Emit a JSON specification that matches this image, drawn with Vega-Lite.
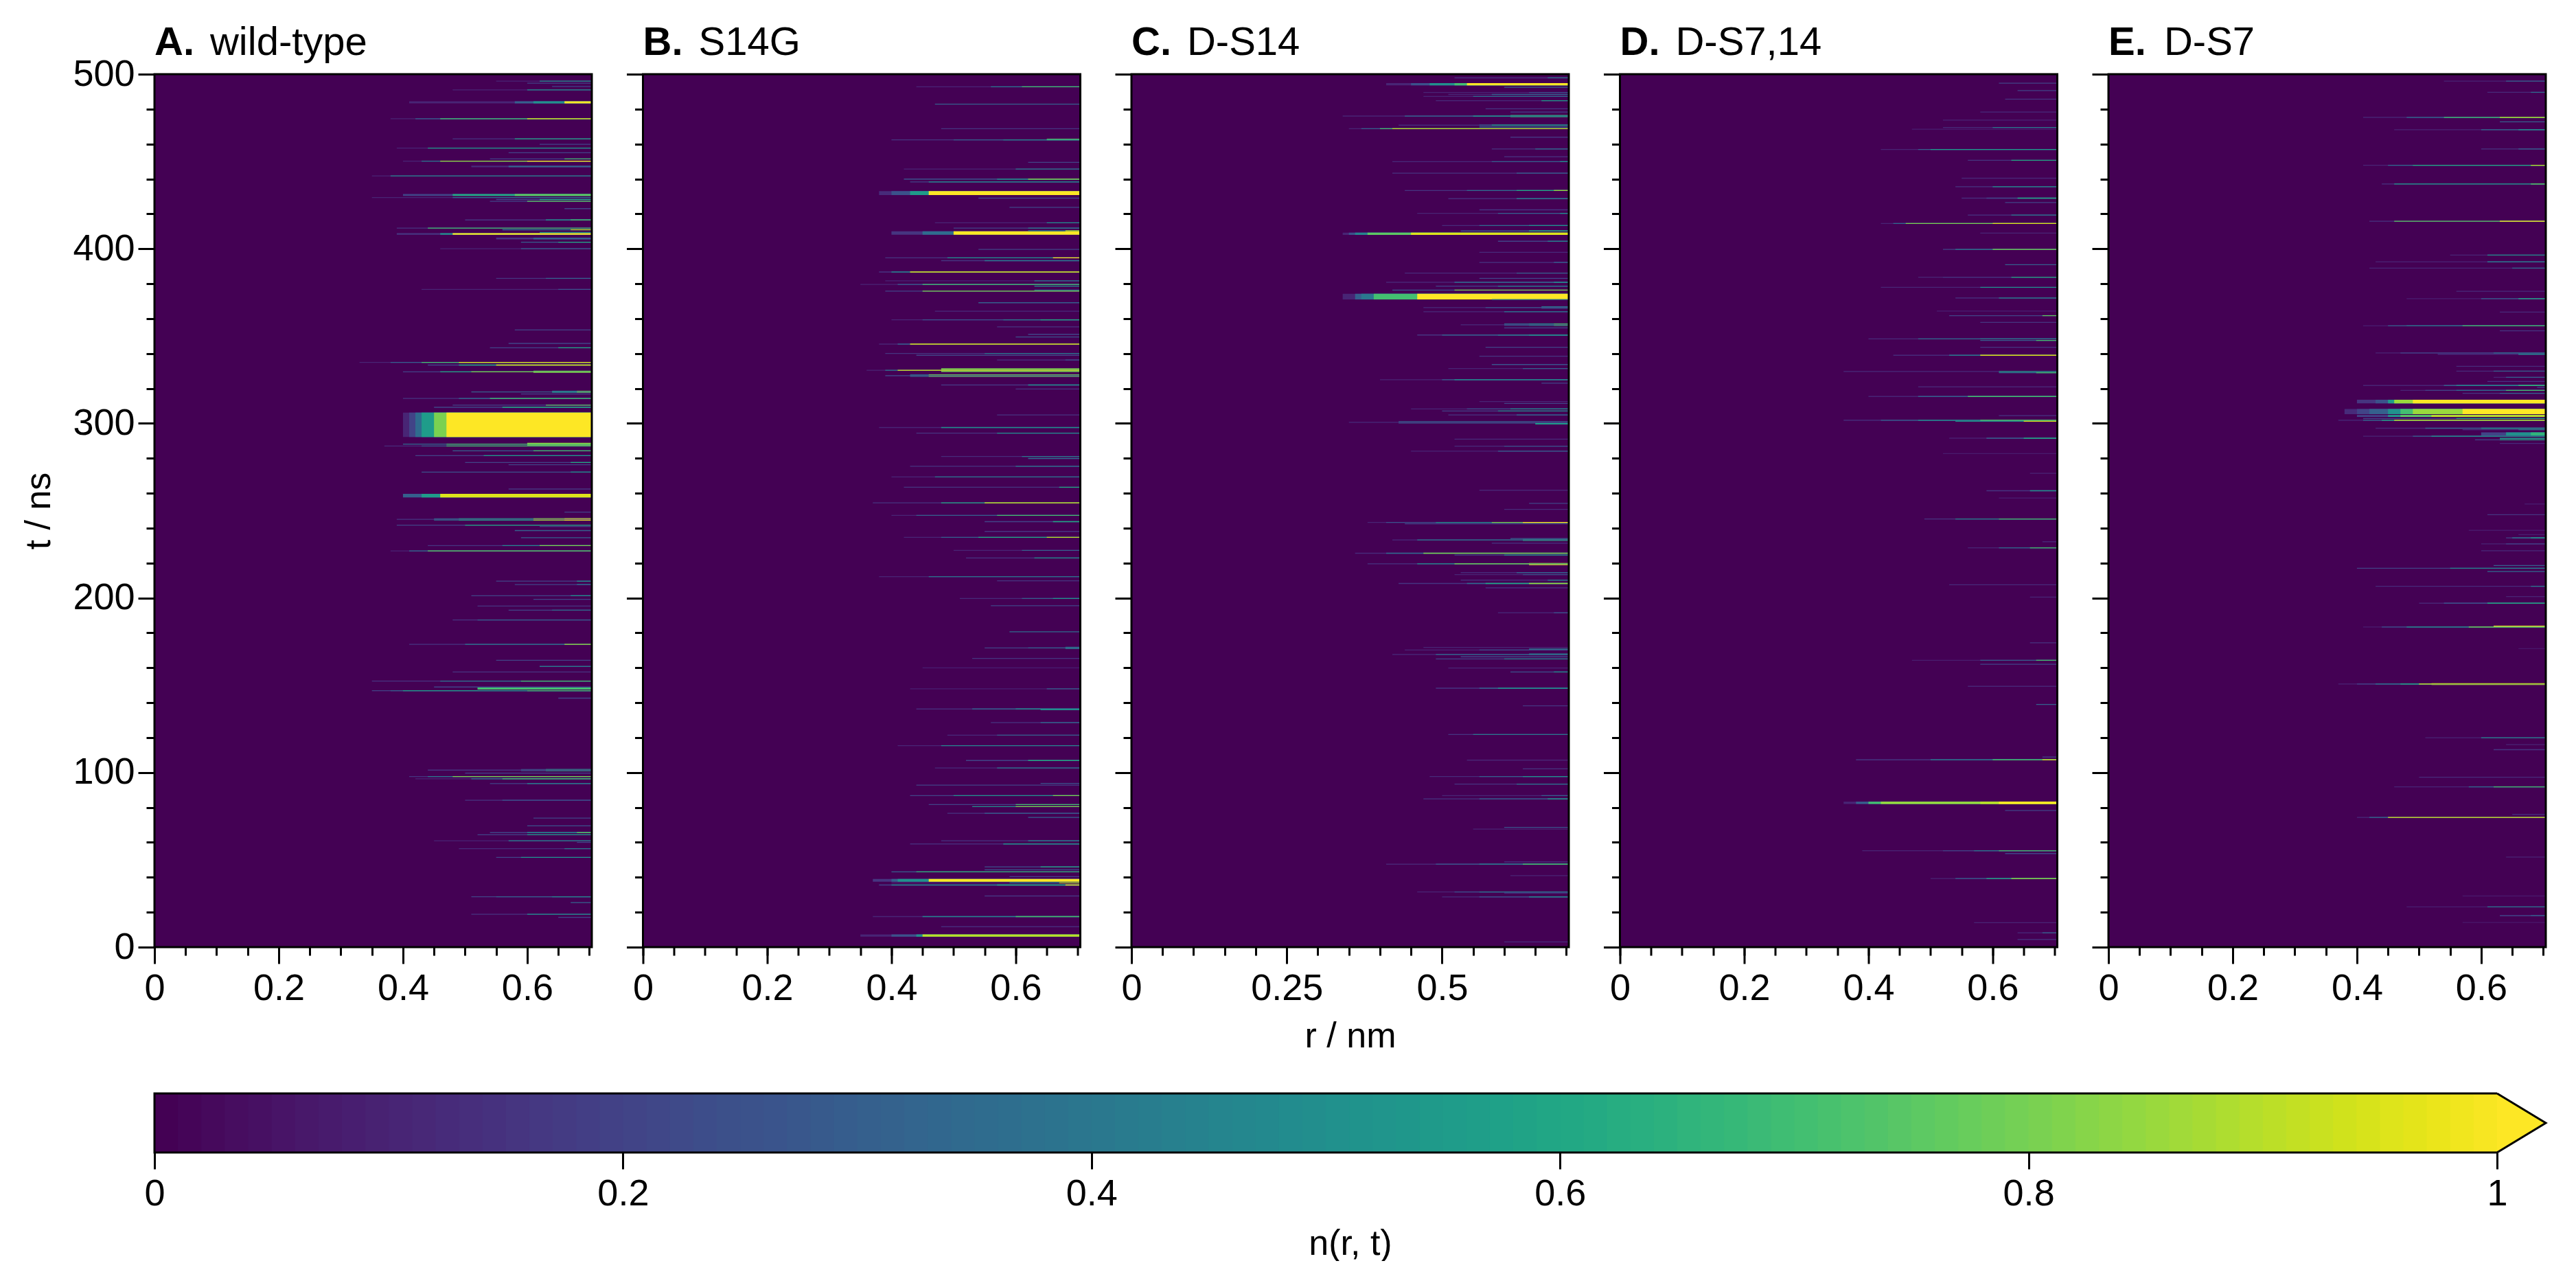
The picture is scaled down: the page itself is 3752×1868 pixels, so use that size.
{"$schema":"https://vega.github.io/schema/vega-lite/v6.json","background":"white","padding":{"left":30,"top":34,"right":0,"bottom":0},"spacing":52,"config":{"view":{"stroke":null},"font":"Liberation Sans","axisX":{"labelPadding":9},"axisY":{"labelPadding":5},"axis":{"labelFont":"Liberation Sans","titleFont":"Liberation Sans","labelFontSize":54,"titleFontSize":52,"titleFontWeight":"normal","labelColor":"black","titleColor":"black","tickColor":"black","tickWidth":3,"domain":false,"grid":false,"labelOverlap":false,"labelFlush":false,"labelBound":false}},"datasets":{"ft":[{"r":0,"u":0.704,"t":0,"e":500}],
"A1":[{"t":0,"e":500,"r":0,"n":0},{"t":483.3,"e":484.5,"r":0.41,"n":0.1},{"t":483.3,"e":484.5,"r":0.58,"n":0.3},{"t":483.3,"e":484.5,"r":0.61,"n":0.5},{"t":483.3,"e":484.5,"r":0.66,"n":1},{"t":430.3,"e":431.4,"r":0.4,"n":0.2},{"t":430.3,"e":431.4,"r":0.48,"n":0.6},{"t":430.3,"e":431.4,"r":0.58,"n":0.75},{"t":408,"e":408.9,"r":0.39,"n":0.15},{"t":408,"e":408.9,"r":0.46,"n":0.5},{"t":408,"e":408.9,"r":0.48,"n":1},{"t":446.7,"e":447.6,"r":0.51,"n":0.12},{"t":446.7,"e":447.6,"r":0.57,"n":0.3},{"t":405.4,"e":406.4,"r":0.55,"n":0.15},{"t":405.4,"e":406.4,"r":0.61,"n":0.3},{"t":292.2,"e":306.2,"r":0.4,"n":0.1},{"t":292.2,"e":306.2,"r":0.41,"n":0.2},{"t":292.2,"e":306.2,"r":0.42,"n":0.35},{"t":292.2,"e":306.2,"r":0.43,"n":0.55},{"t":292.2,"e":306.2,"r":0.45,"n":0.8},{"t":292.2,"e":306.2,"r":0.47,"n":1},{"t":257.6,"e":259.6,"r":0.4,"n":0.3},{"t":257.6,"e":259.6,"r":0.43,"n":0.55},{"t":257.6,"e":259.6,"r":0.46,"n":0.95},{"t":329,"e":330.2,"r":0.61,"n":0.8},{"t":317.5,"e":318.6,"r":0.64,"n":0.5},{"t":317.5,"e":318.6,"r":0.68,"n":0.8},{"t":287,"e":288.8,"r":0.6,"n":0.85},{"t":244.4,"e":245.6,"r":0.45,"n":0.4},{"t":244.4,"e":245.6,"r":0.49,"n":0.6},{"t":244.4,"e":245.6,"r":0.61,"n":0.9},{"t":244.4,"e":245.6,"r":0.66,"n":1},{"t":100.8,"e":102,"r":0.59,"n":0.3},{"t":100.8,"e":102,"r":0.63,"n":0.6},{"t":147.5,"e":148.8,"r":0.52,"n":0.7}],
"A2":[{"t":496,"r":0.55,"n":0.1},{"t":496,"r":0.62,"n":0.5},{"t":494.8,"r":0.6,"n":0.2},{"t":493,"r":0.64,"n":0.2},{"t":491,"r":0.48,"n":0.1},{"t":491,"r":0.6,"n":0.5},{"t":474.5,"r":0.38,"n":0.1},{"t":474.5,"r":0.42,"n":0.3},{"t":474.5,"r":0.46,"n":0.7},{"t":474.5,"r":0.6,"n":0.95},{"t":463,"r":0.48,"n":0.15},{"t":463,"r":0.58,"n":0.6},{"t":459.8,"r":0.62,"n":0.2},{"t":457.7,"r":0.39,"n":0.1},{"t":457.7,"r":0.44,"n":0.55},{"t":455,"r":0.57,"n":0.2},{"t":451.5,"r":0.54,"n":0.2},{"t":451.5,"r":0.66,"n":0.7},{"t":450.2,"r":0.4,"n":0.1},{"t":450.2,"r":0.43,"n":0.4},{"t":450.2,"r":0.46,"n":0.85},{"t":450.2,"r":0.6,"n":1},{"t":441.7,"r":0.35,"n":0.1},{"t":441.7,"r":0.38,"n":0.45},{"t":429.3,"r":0.35,"n":0.1},{"t":429.3,"r":0.48,"n":0.35},{"t":428.2,"r":0.55,"n":0.2},{"t":428.2,"r":0.62,"n":0.6},{"t":427.2,"r":0.54,"n":0.2},{"t":427.2,"r":0.6,"n":0.75},{"t":423,"r":0.66,"n":0.2},{"t":416.5,"r":0.5,"n":0.15},{"t":416.5,"r":0.63,"n":0.5},{"t":416.5,"r":0.67,"n":0.7},{"t":411.8,"r":0.39,"n":0.15},{"t":411.8,"r":0.44,"n":0.7},{"t":410.9,"r":0.56,"n":0.4},{"t":410.9,"r":0.67,"n":0.9},{"t":409.4,"r":0.62,"n":0.5},{"t":403.8,"r":0.59,"n":0.3},{"t":403.8,"r":0.65,"n":0.6},{"t":400,"r":0.46,"n":0.1},{"t":400,"r":0.59,"n":0.3},{"t":383,"r":0.55,"n":0.15},{"t":383,"r":0.63,"n":0.3},{"t":376.7,"r":0.43,"n":0.1},{"t":376.7,"r":0.65,"n":0.25},{"t":353.5,"r":0.58,"n":0.2},{"t":345.8,"r":0.57,"n":0.2},{"t":343.3,"r":0.54,"n":0.2},{"t":343.3,"r":0.65,"n":0.6},{"t":334.9,"r":0.33,"n":0.1},{"t":334.9,"r":0.38,"n":0.3},{"t":334.9,"r":0.43,"n":0.7},{"t":334.9,"r":0.49,"n":0.95},{"t":333.4,"r":0.44,"n":0.2},{"t":333.4,"r":0.49,"n":0.6},{"t":333.4,"r":0.55,"n":0.95},{"t":329.5,"r":0.4,"n":0.2},{"t":329.5,"r":0.46,"n":0.6},{"t":329.5,"r":0.51,"n":0.8},{"t":318,"r":0.51,"n":0.3},{"t":316.8,"r":0.59,"n":0.2},{"t":314.3,"r":0.4,"n":0.15},{"t":314.3,"r":0.49,"n":0.35},{"t":314.3,"r":0.54,"n":0.7},{"t":310.4,"r":0.48,"n":0.2},{"t":310.4,"r":0.63,"n":0.75},{"t":309.2,"r":0.45,"n":0.2},{"t":309.2,"r":0.56,"n":0.6},{"t":288.1,"r":0.4,"n":0.35},{"t":288.1,"r":0.47,"n":0.7},{"t":287,"r":0.37,"n":0.12},{"t":287,"r":0.43,"n":0.3},{"t":287,"r":0.47,"n":0.7},{"t":284.3,"r":0.48,"n":0.3},{"t":284.3,"r":0.61,"n":0.7},{"t":281.5,"r":0.42,"n":0.2},{"t":281.5,"r":0.53,"n":0.55},{"t":277.6,"r":0.5,"n":0.2},{"t":277.6,"r":0.67,"n":0.6},{"t":276.3,"r":0.57,"n":0.2},{"t":272.1,"r":0.43,"n":0.25},{"t":272.1,"r":0.67,"n":0.5},{"t":262.4,"r":0.57,"n":0.15},{"t":249.2,"r":0.66,"n":0.2},{"t":245,"r":0.39,"n":0.15},{"t":241.7,"r":0.39,"n":0.2},{"t":241.7,"r":0.5,"n":0.6},{"t":240.9,"r":0.62,"n":0.2},{"t":238.6,"r":0.58,"n":0.3},{"t":234.5,"r":0.59,"n":0.3},{"t":230,"r":0.44,"n":0.15},{"t":230,"r":0.56,"n":0.45},{"t":230,"r":0.62,"n":0.8},{"t":226.9,"r":0.38,"n":0.1},{"t":226.9,"r":0.41,"n":0.35},{"t":226.9,"r":0.44,"n":0.75},{"t":209.6,"r":0.55,"n":0.2},{"t":209.6,"r":0.68,"n":0.5},{"t":207.7,"r":0.58,"n":0.2},{"t":207.7,"r":0.68,"n":0.35},{"t":201.3,"r":0.51,"n":0.2},{"t":201.3,"r":0.67,"n":0.5},{"t":199.2,"r":0.61,"n":0.2},{"t":195.4,"r":0.52,"n":0.15},{"t":193,"r":0.57,"n":0.2},{"t":193,"r":0.64,"n":0.35},{"t":187.4,"r":0.48,"n":0.15},{"t":187.4,"r":0.52,"n":0.3},{"t":173.4,"r":0.41,"n":0.15},{"t":173.4,"r":0.5,"n":0.4},{"t":173.4,"r":0.66,"n":0.85},{"t":164.3,"r":0.55,"n":0.2},{"t":160.8,"r":0.62,"n":0.4},{"t":157.6,"r":0.48,"n":0.15},{"t":152.4,"r":0.35,"n":0.15},{"t":152.4,"r":0.46,"n":0.4},{"t":152.4,"r":0.59,"n":0.7},{"t":149,"r":0.45,"n":0.2},{"t":146.9,"r":0.35,"n":0.2},{"t":146.9,"r":0.38,"n":0.3},{"t":146.9,"r":0.4,"n":0.55},{"t":146.9,"r":0.6,"n":0.7},{"t":142.6,"r":0.65,"n":0.2},{"t":99.7,"r":0.5,"n":0.2},{"t":101.4,"r":0.44,"n":0.15},{"t":97.7,"r":0.41,"n":0.15},{"t":97.7,"r":0.44,"n":0.4},{"t":97.7,"r":0.48,"n":0.8},{"t":96.4,"r":0.42,"n":0.1},{"t":96.4,"r":0.51,"n":0.4},{"t":96.4,"r":0.56,"n":0.7},{"t":93.7,"r":0.54,"n":0.2},{"t":93.7,"r":0.6,"n":0.45},{"t":84.1,"r":0.5,"n":0.15},{"t":84.1,"r":0.56,"n":0.25},{"t":73.9,"r":0.61,"n":0.2},{"t":69.5,"r":0.6,"n":0.25},{"t":65.6,"r":0.54,"n":0.2},{"t":65.6,"r":0.6,"n":0.45},{"t":65.6,"r":0.68,"n":0.75},{"t":64.4,"r":0.52,"n":0.2},{"t":64.4,"r":0.6,"n":0.55},{"t":60.9,"r":0.45,"n":0.1},{"t":60.9,"r":0.57,"n":0.45},{"t":60,"r":0.68,"n":0.2},{"t":56.4,"r":0.49,"n":0.12},{"t":56.4,"r":0.66,"n":0.4},{"t":51.4,"r":0.55,"n":0.2},{"t":51.4,"r":0.59,"n":0.5},{"t":28.9,"r":0.51,"n":0.2},{"t":28.9,"r":0.55,"n":0.3},{"t":28.9,"r":0.64,"n":0.45},{"t":25.5,"r":0.67,"n":0.3},{"t":18.8,"r":0.51,"n":0.15},{"t":18.8,"r":0.6,"n":0.5},{"t":17.1,"r":0.65,"n":0.2}],
"B1":[{"t":0,"e":500,"r":0,"n":0},{"t":430.8,"e":433,"r":0.38,"n":0.12},{"t":430.8,"e":433,"r":0.4,"n":0.25},{"t":430.8,"e":433,"r":0.43,"n":0.55},{"t":430.8,"e":433,"r":0.46,"n":1},{"t":408,"e":410,"r":0.4,"n":0.15},{"t":408,"e":410,"r":0.45,"n":0.35},{"t":408,"e":410,"r":0.5,"n":1},{"t":329.5,"e":331.5,"r":0.48,"n":0.8},{"t":326.7,"e":328,"r":0.43,"n":0.4},{"t":326.7,"e":328,"r":0.46,"n":0.8},{"t":37.5,"e":39,"r":0.37,"n":0.15},{"t":37.5,"e":39,"r":0.4,"n":0.3},{"t":37.5,"e":39,"r":0.41,"n":0.5},{"t":37.5,"e":39,"r":0.46,"n":1},{"t":6,"e":7.3,"r":0.35,"n":0.1},{"t":6,"e":7.3,"r":0.4,"n":0.25},{"t":6,"e":7.3,"r":0.44,"n":0.5},{"t":6,"e":7.3,"r":0.45,"n":0.9},{"t":462,"e":463,"r":0.65,"n":0.75},{"t":170.8,"e":172,"r":0.68,"n":0.45}],
"B2":[{"t":492.8,"r":0.44,"n":0.1},{"t":492.8,"r":0.56,"n":0.4},{"t":492.8,"r":0.61,"n":0.7},{"t":482.8,"r":0.47,"n":0.3},{"t":468.8,"r":0.48,"n":0.15},{"t":462.4,"r":0.4,"n":0.15},{"t":462.4,"r":0.5,"n":0.3},{"t":462.4,"r":0.58,"n":0.45},{"t":449.5,"r":0.62,"n":0.2},{"t":445.7,"r":0.42,"n":0.1},{"t":445.7,"r":0.6,"n":0.4},{"t":439.9,"r":0.42,"n":0.25},{"t":439.9,"r":0.57,"n":0.5},{"t":439.9,"r":0.62,"n":0.8},{"t":438.3,"r":0.43,"n":0.2},{"t":438.3,"r":0.46,"n":0.5},{"t":429,"r":0.54,"n":0.2},{"t":423.7,"r":0.59,"n":0.2},{"t":414.9,"r":0.47,"n":0.1},{"t":414.9,"r":0.65,"n":0.5},{"t":411.8,"r":0.5,"n":0.2},{"t":411.8,"r":0.62,"n":0.4},{"t":410.3,"r":0.62,"n":0.4},{"t":410.3,"r":0.68,"n":0.9},{"t":399.6,"r":0.54,"n":0.2},{"t":394.8,"r":0.39,"n":0.15},{"t":394.8,"r":0.49,"n":0.5},{"t":394.8,"r":0.66,"n":1},{"t":393.2,"r":0.48,"n":0.15},{"t":393.2,"r":0.55,"n":0.4},{"t":386.7,"r":0.38,"n":0.15},{"t":386.7,"r":0.4,"n":0.45},{"t":386.7,"r":0.43,"n":0.95},{"t":381.6,"r":0.39,"n":0.1},{"t":381.6,"r":0.63,"n":0.4},{"t":379.6,"r":0.35,"n":0.1},{"t":379.6,"r":0.41,"n":0.3},{"t":379.6,"r":0.45,"n":0.7},{"t":378.6,"r":0.63,"n":0.5},{"t":376.3,"r":0.63,"n":0.4},{"t":375.7,"r":0.39,"n":0.2},{"t":375.7,"r":0.45,"n":0.8},{"t":369.1,"r":0.54,"n":0.3},{"t":364.2,"r":0.47,"n":0.12},{"t":359.3,"r":0.4,"n":0.1},{"t":359.3,"r":0.45,"n":0.25},{"t":359.3,"r":0.58,"n":0.4},{"t":359.3,"r":0.64,"n":0.6},{"t":355.3,"r":0.57,"n":0.15},{"t":351,"r":0.62,"n":0.2},{"t":349.5,"r":0.6,"n":0.25},{"t":345.4,"r":0.38,"n":0.1},{"t":345.4,"r":0.41,"n":0.3},{"t":345.4,"r":0.43,"n":0.95},{"t":340,"r":0.39,"n":0.15},{"t":340,"r":0.55,"n":0.4},{"t":339,"r":0.44,"n":0.2},{"t":336.3,"r":0.57,"n":0.15},{"t":336.3,"r":0.68,"n":0.25},{"t":330.4,"r":0.36,"n":0.1},{"t":330.4,"r":0.39,"n":0.4},{"t":330.4,"r":0.41,"n":0.95},{"t":327.3,"r":0.39,"n":0.2},{"t":322,"r":0.48,"n":0.15},{"t":322,"r":0.62,"n":0.5},{"t":319.7,"r":0.6,"n":0.15},{"t":304.8,"r":0.57,"n":0.15},{"t":297.6,"r":0.38,"n":0.1},{"t":297.6,"r":0.48,"n":0.5},{"t":294.4,"r":0.44,"n":0.15},{"t":294.4,"r":0.57,"n":0.5},{"t":281,"r":0.48,"n":0.12},{"t":281,"r":0.61,"n":0.4},{"t":279.9,"r":0.62,"n":0.35},{"t":275.4,"r":0.43,"n":0.15},{"t":275.4,"r":0.6,"n":0.4},{"t":269.3,"r":0.4,"n":0.1},{"t":269.3,"r":0.47,"n":0.4},{"t":263.4,"r":0.42,"n":0.15},{"t":263.4,"r":0.67,"n":0.6},{"t":254.5,"r":0.37,"n":0.15},{"t":254.5,"r":0.48,"n":0.6},{"t":254.5,"r":0.55,"n":0.95},{"t":247.3,"r":0.4,"n":0.1},{"t":247.3,"r":0.44,"n":0.3},{"t":247.3,"r":0.57,"n":0.7},{"t":243.7,"r":0.55,"n":0.2},{"t":243.7,"r":0.66,"n":0.6},{"t":238.1,"r":0.55,"n":0.15},{"t":234.7,"r":0.42,"n":0.1},{"t":234.7,"r":0.48,"n":0.3},{"t":234.7,"r":0.54,"n":0.6},{"t":234.7,"r":0.65,"n":0.9},{"t":227.2,"r":0.5,"n":0.1},{"t":227.2,"r":0.61,"n":0.3},{"t":222.9,"r":0.52,"n":0.15},{"t":222.9,"r":0.63,"n":0.5},{"t":212.2,"r":0.38,"n":0.1},{"t":212.2,"r":0.46,"n":0.4},{"t":209.8,"r":0.57,"n":0.15},{"t":199.7,"r":0.51,"n":0.12},{"t":199.7,"r":0.61,"n":0.3},{"t":199.7,"r":0.66,"n":0.5},{"t":195.6,"r":0.56,"n":0.2},{"t":180.6,"r":0.59,"n":0.35},{"t":171.4,"r":0.55,"n":0.2},{"t":171.4,"r":0.62,"n":0.3},{"t":165.4,"r":0.53,"n":0.15},{"t":160,"r":0.45,"n":0.08},{"t":148,"r":0.43,"n":0.08},{"t":148,"r":0.65,"n":0.3},{"t":136.4,"r":0.44,"n":0.12},{"t":136.4,"r":0.53,"n":0.3},{"t":136.4,"r":0.6,"n":0.45},{"t":136,"r":0.64,"n":0.5},{"t":128.6,"r":0.56,"n":0.15},{"t":128.6,"r":0.64,"n":0.35},{"t":121.4,"r":0.49,"n":0.12},{"t":121.4,"r":0.57,"n":0.3},{"t":115.4,"r":0.41,"n":0.1},{"t":115.4,"r":0.48,"n":0.45},{"t":106.9,"r":0.52,"n":0.2},{"t":106.9,"r":0.62,"n":0.6},{"t":102.6,"r":0.47,"n":0.12},{"t":102.6,"r":0.57,"n":0.4},{"t":93.8,"r":0.64,"n":0.25},{"t":92.8,"r":0.44,"n":0.2},{"t":86.8,"r":0.43,"n":0.2},{"t":86.8,"r":0.5,"n":0.5},{"t":86.8,"r":0.66,"n":0.8},{"t":81.7,"r":0.46,"n":0.2},{"t":81.7,"r":0.6,"n":0.7},{"t":80.5,"r":0.53,"n":0.5},{"t":80.5,"r":0.6,"n":0.8},{"t":76.7,"r":0.49,"n":0.15},{"t":76.7,"r":0.55,"n":0.3},{"t":74.3,"r":0.62,"n":0.3},{"t":60.9,"r":0.48,"n":0.15},{"t":60.9,"r":0.62,"n":0.45},{"t":59.1,"r":0.43,"n":0.12},{"t":59.1,"r":0.58,"n":0.5},{"t":46,"r":0.55,"n":0.25},{"t":46,"r":0.64,"n":0.6},{"t":44.3,"r":0.55,"n":0.25},{"t":43.1,"r":0.4,"n":0.3},{"t":43.1,"r":0.44,"n":0.65},{"t":40.4,"r":0.59,"n":0.2},{"t":36.8,"r":0.4,"n":0.1},{"t":36.8,"r":0.59,"n":0.45},{"t":36.8,"r":0.67,"n":0.9},{"t":35.6,"r":0.38,"n":0.2},{"t":35.6,"r":0.4,"n":0.45},{"t":35.6,"r":0.57,"n":0.6},{"t":35.6,"r":0.68,"n":1},{"t":29.3,"r":0.55,"n":0.15},{"t":17.5,"r":0.37,"n":0.1},{"t":17.5,"r":0.45,"n":0.45},{"t":17.5,"r":0.6,"n":0.7},{"t":11.7,"r":0.48,"n":0.12}],
"C1":[{"t":0,"e":500,"r":0,"n":0},{"t":493.6,"e":494.9,"r":0.41,"n":0.1},{"t":493.6,"e":494.9,"r":0.45,"n":0.25},{"t":493.6,"e":494.9,"r":0.48,"n":0.5},{"t":493.6,"e":494.9,"r":0.52,"n":0.7},{"t":493.6,"e":494.9,"r":0.54,"n":1},{"t":475.4,"e":476.6,"r":0.61,"n":0.7},{"t":407.9,"e":409.2,"r":0.34,"n":0.1},{"t":407.9,"e":409.2,"r":0.35,"n":0.25},{"t":407.9,"e":409.2,"r":0.36,"n":0.45},{"t":407.9,"e":409.2,"r":0.38,"n":0.75},{"t":407.9,"e":409.2,"r":0.45,"n":0.95},{"t":371,"e":374.2,"r":0.34,"n":0.1},{"t":371,"e":374.2,"r":0.36,"n":0.3},{"t":371,"e":374.2,"r":0.37,"n":0.4},{"t":371,"e":374.2,"r":0.39,"n":0.7},{"t":371,"e":374.2,"r":0.46,"n":1},{"t":365.8,"e":367,"r":0.66,"n":0.4},{"t":355.9,"e":357.2,"r":0.6,"n":0.35},{"t":355.9,"e":357.2,"r":0.64,"n":0.5},{"t":355.9,"e":357.2,"r":0.68,"n":0.7},{"t":300,"e":301.2,"r":0.43,"n":0.3},{"t":299.4,"e":300.2,"r":0.65,"n":0.55},{"t":218.8,"e":220,"r":0.64,"n":1},{"t":232.7,"e":233.8,"r":0.63,"n":0.65},{"t":170,"e":171,"r":0.64,"n":0.4},{"t":167.2,"e":168.2,"r":0.64,"n":0.5}],
"C2":[{"t":497.9,"r":0.52,"n":0.15},{"t":497.9,"r":0.67,"n":0.4},{"t":492.5,"r":0.6,"n":0.3},{"t":489.5,"r":0.47,"n":0.1},{"t":489.5,"r":0.64,"n":0.25},{"t":488.4,"r":0.51,"n":0.1},{"t":488.4,"r":0.58,"n":0.3},{"t":487.3,"r":0.47,"n":0.1},{"t":487.3,"r":0.55,"n":0.35},{"t":484.8,"r":0.49,"n":0.12},{"t":484.8,"r":0.66,"n":0.55},{"t":480.2,"r":0.57,"n":0.15},{"t":478.3,"r":0.61,"n":0.2},{"t":476,"r":0.34,"n":0.1},{"t":476,"r":0.44,"n":0.3},{"t":476,"r":0.55,"n":0.5},{"t":470.8,"r":0.43,"n":0.12},{"t":470.8,"r":0.56,"n":0.3},{"t":470.8,"r":0.58,"n":0.55},{"t":469.8,"r":0.56,"n":0.3},{"t":468.8,"r":0.35,"n":0.1},{"t":468.8,"r":0.37,"n":0.3},{"t":468.8,"r":0.4,"n":0.7},{"t":468.8,"r":0.42,"n":0.9},{"t":463.9,"r":0.61,"n":0.15},{"t":457.2,"r":0.58,"n":0.15},{"t":457.2,"r":0.65,"n":0.35},{"t":452.7,"r":0.6,"n":0.12},{"t":449.9,"r":0.42,"n":0.12},{"t":449.9,"r":0.58,"n":0.3},{"t":449.9,"r":0.69,"n":0.5},{"t":443.3,"r":0.42,"n":0.15},{"t":443.3,"r":0.62,"n":0.3},{"t":433.4,"r":0.44,"n":0.15},{"t":433.4,"r":0.54,"n":0.35},{"t":433.4,"r":0.62,"n":0.6},{"t":433.4,"r":0.68,"n":0.85},{"t":428.7,"r":0.51,"n":0.12},{"t":428.7,"r":0.62,"n":0.4},{"t":422.3,"r":0.56,"n":0.15},{"t":420.3,"r":0.46,"n":0.1},{"t":420.3,"r":0.59,"n":0.3},{"t":420.3,"r":0.69,"n":0.5},{"t":413.3,"r":0.5,"n":0.12},{"t":413.3,"r":0.56,"n":0.35},{"t":413.3,"r":0.64,"n":0.5},{"t":410.2,"r":0.53,"n":0.25},{"t":410.2,"r":0.64,"n":0.6},{"t":404.3,"r":0.59,"n":0.2},{"t":404.3,"r":0.67,"n":0.45},{"t":398,"r":0.56,"n":0.12},{"t":392.2,"r":0.56,"n":0.15},{"t":392.2,"r":0.68,"n":0.3},{"t":386.1,"r":0.44,"n":0.12},{"t":386.1,"r":0.62,"n":0.3},{"t":383,"r":0.56,"n":0.2},{"t":380.8,"r":0.41,"n":0.1},{"t":380.8,"r":0.52,"n":0.35},{"t":380.8,"r":0.68,"n":0.5},{"t":378.6,"r":0.49,"n":0.2},{"t":378.6,"r":0.59,"n":0.45},{"t":376.3,"r":0.42,"n":0.25},{"t":376.3,"r":0.52,"n":0.8},{"t":370.9,"r":0.58,"n":0.4},{"t":366.3,"r":0.47,"n":0.12},{"t":366.3,"r":0.57,"n":0.25},{"t":363.9,"r":0.47,"n":0.12},{"t":363.9,"r":0.6,"n":0.4},{"t":356.5,"r":0.53,"n":0.12},{"t":354.7,"r":0.6,"n":0.2},{"t":350.6,"r":0.46,"n":0.15},{"t":350.6,"r":0.5,"n":0.3},{"t":350.6,"r":0.59,"n":0.4},{"t":350.6,"r":0.64,"n":0.5},{"t":343.6,"r":0.57,"n":0.2},{"t":338.5,"r":0.56,"n":0.15},{"t":333.7,"r":0.58,"n":0.25},{"t":331.4,"r":0.51,"n":0.1},{"t":331.4,"r":0.63,"n":0.3},{"t":325,"r":0.4,"n":0.1},{"t":325,"r":0.5,"n":0.3},{"t":325,"r":0.52,"n":0.5},{"t":323,"r":0.66,"n":0.2},{"t":312.5,"r":0.56,"n":0.1},{"t":311.4,"r":0.6,"n":0.2},{"t":308.3,"r":0.45,"n":0.1},{"t":308.3,"r":0.54,"n":0.25},{"t":308.3,"r":0.61,"n":0.5},{"t":307.1,"r":0.5,"n":0.2},{"t":307.1,"r":0.59,"n":0.5},{"t":304.8,"r":0.51,"n":0.15},{"t":304.8,"r":0.62,"n":0.35},{"t":300.6,"r":0.35,"n":0.12},{"t":291,"r":0.52,"n":0.12},{"t":286.9,"r":0.52,"n":0.12},{"t":286.9,"r":0.6,"n":0.25},{"t":284.1,"r":0.45,"n":0.1},{"t":284.1,"r":0.59,"n":0.3},{"t":261.7,"r":0.56,"n":0.1},{"t":254.2,"r":0.64,"n":0.2},{"t":250.7,"r":0.6,"n":0.12},{"t":243.3,"r":0.38,"n":0.1},{"t":243.3,"r":0.41,"n":0.25},{"t":243.3,"r":0.49,"n":0.5},{"t":243.3,"r":0.58,"n":0.8},{"t":243.3,"r":0.63,"n":1},{"t":242.5,"r":0.44,"n":0.2},{"t":234,"r":0.61,"n":0.3},{"t":233.2,"r":0.42,"n":0.12},{"t":233.2,"r":0.46,"n":0.4},{"t":231.4,"r":0.58,"n":0.15},{"t":225.6,"r":0.36,"n":0.12},{"t":225.6,"r":0.41,"n":0.35},{"t":225.6,"r":0.47,"n":0.8},{"t":224.6,"r":0.52,"n":0.2},{"t":224.6,"r":0.6,"n":0.5},{"t":219.6,"r":0.38,"n":0.15},{"t":219.6,"r":0.46,"n":0.5},{"t":219.6,"r":0.52,"n":0.8},{"t":214.5,"r":0.53,"n":0.12},{"t":214.5,"r":0.62,"n":0.3},{"t":213.4,"r":0.52,"n":0.1},{"t":213.4,"r":0.63,"n":0.25},{"t":210.2,"r":0.53,"n":0.15},{"t":210.2,"r":0.67,"n":0.45},{"t":208.3,"r":0.43,"n":0.15},{"t":208.3,"r":0.54,"n":0.35},{"t":208.3,"r":0.57,"n":0.6},{"t":208.3,"r":0.64,"n":0.85},{"t":205.8,"r":0.57,"n":0.15},{"t":191.5,"r":0.59,"n":0.12},{"t":191.5,"r":0.68,"n":0.25},{"t":171.7,"r":0.47,"n":0.1},{"t":170.2,"r":0.44,"n":0.1},{"t":170.2,"r":0.56,"n":0.25},{"t":167.6,"r":0.42,"n":0.12},{"t":167.6,"r":0.49,"n":0.35},{"t":166.3,"r":0.53,"n":0.2},{"t":165.1,"r":0.49,"n":0.2},{"t":165.1,"r":0.6,"n":0.45},{"t":159.9,"r":0.51,"n":0.1},{"t":157.6,"r":0.61,"n":0.25},{"t":157.6,"r":0.68,"n":0.5},{"t":148.3,"r":0.49,"n":0.15},{"t":148.3,"r":0.56,"n":0.3},{"t":148.3,"r":0.59,"n":0.5},{"t":138.2,"r":0.63,"n":0.15},{"t":121.8,"r":0.51,"n":0.15},{"t":121.8,"r":0.55,"n":0.4},{"t":107.1,"r":0.54,"n":0.1},{"t":102.1,"r":0.63,"n":0.15},{"t":97.7,"r":0.48,"n":0.12},{"t":97.7,"r":0.56,"n":0.3},{"t":97.7,"r":0.63,"n":0.5},{"t":93.4,"r":0.52,"n":0.15},{"t":93.4,"r":0.62,"n":0.4},{"t":86.8,"r":0.5,"n":0.1},{"t":86.8,"r":0.66,"n":0.3},{"t":84.9,"r":0.47,"n":0.15},{"t":84.9,"r":0.56,"n":0.3},{"t":84.9,"r":0.67,"n":0.55},{"t":68.6,"r":0.6,"n":0.25},{"t":67.6,"r":0.55,"n":0.1},{"t":48.8,"r":0.6,"n":0.15},{"t":47.5,"r":0.41,"n":0.1},{"t":47.5,"r":0.49,"n":0.25},{"t":47.5,"r":0.56,"n":0.4},{"t":47.5,"r":0.63,"n":0.7},{"t":41,"r":0.61,"n":0.1},{"t":31.6,"r":0.46,"n":0.1},{"t":31.6,"r":0.52,"n":0.25},{"t":31.6,"r":0.56,"n":0.4},{"t":31,"r":0.6,"n":0.2},{"t":28.8,"r":0.5,"n":0.12},{"t":28.8,"r":0.56,"n":0.25},{"t":28.8,"r":0.64,"n":0.5},{"t":3,"r":0.6,"n":0.12}],
"D1":[{"t":0,"e":500,"r":0,"n":0},{"t":82,"e":83.3,"r":0.36,"n":0.1},{"t":82,"e":83.3,"r":0.38,"n":0.3},{"t":82,"e":83.3,"r":0.4,"n":0.7},{"t":82,"e":83.3,"r":0.42,"n":0.85},{"t":82,"e":83.3,"r":0.58,"n":0.9},{"t":82,"e":83.3,"r":0.61,"n":1}],
"D2":[{"t":494.8,"r":0.61,"n":0.2},{"t":490.6,"r":0.64,"n":0.2},{"t":485.7,"r":0.62,"n":0.15},{"t":478.3,"r":0.58,"n":0.12},{"t":473.7,"r":0.52,"n":0.1},{"t":469.5,"r":0.52,"n":0.12},{"t":469.5,"r":0.6,"n":0.4},{"t":468.5,"r":0.47,"n":0.08},{"t":456.9,"r":0.42,"n":0.1},{"t":456.9,"r":0.48,"n":0.3},{"t":456.9,"r":0.5,"n":0.55},{"t":450.7,"r":0.56,"n":0.15},{"t":450.7,"r":0.63,"n":0.6},{"t":440.4,"r":0.55,"n":0.1},{"t":435.5,"r":0.54,"n":0.15},{"t":435.5,"r":0.6,"n":0.5},{"t":429,"r":0.55,"n":0.12},{"t":429,"r":0.59,"n":0.2},{"t":429,"r":0.64,"n":0.6},{"t":426.5,"r":0.62,"n":0.2},{"t":419.3,"r":0.56,"n":0.15},{"t":419.3,"r":0.63,"n":0.4},{"t":414.5,"r":0.42,"n":0.1},{"t":414.5,"r":0.44,"n":0.35},{"t":414.5,"r":0.46,"n":0.8},{"t":414.5,"r":0.6,"n":0.95},{"t":409,"r":0.58,"n":0.1},{"t":399.6,"r":0.52,"n":0.2},{"t":399.6,"r":0.54,"n":0.4},{"t":399.6,"r":0.6,"n":0.8},{"t":390.9,"r":0.62,"n":0.3},{"t":383.7,"r":0.48,"n":0.1},{"t":383.7,"r":0.52,"n":0.15},{"t":383.7,"r":0.63,"n":0.6},{"t":377.9,"r":0.42,"n":0.1},{"t":377.9,"r":0.58,"n":0.5},{"t":371.8,"r":0.54,"n":0.15},{"t":371.8,"r":0.61,"n":0.45},{"t":364.3,"r":0.51,"n":0.08},{"t":361.7,"r":0.53,"n":0.2},{"t":361.7,"r":0.68,"n":0.75},{"t":357.8,"r":0.58,"n":0.15},{"t":348.4,"r":0.4,"n":0.12},{"t":348.4,"r":0.48,"n":0.35},{"t":348.4,"r":0.58,"n":0.4},{"t":347.5,"r":0.58,"n":0.3},{"t":347.5,"r":0.67,"n":0.7},{"t":343.6,"r":0.58,"n":0.15},{"t":339,"r":0.44,"n":0.12},{"t":339,"r":0.53,"n":0.4},{"t":339,"r":0.58,"n":0.95},{"t":329.7,"r":0.36,"n":0.12},{"t":329.7,"r":0.61,"n":0.55},{"t":329,"r":0.61,"n":0.4},{"t":329,"r":0.67,"n":0.7},{"t":320.9,"r":0.48,"n":0.1},{"t":315.4,"r":0.4,"n":0.1},{"t":315.4,"r":0.48,"n":0.3},{"t":315.4,"r":0.56,"n":0.7},{"t":304.4,"r":0.61,"n":0.15},{"t":301.8,"r":0.36,"n":0.15},{"t":301.8,"r":0.42,"n":0.3},{"t":301.8,"r":0.48,"n":0.5},{"t":301.8,"r":0.58,"n":0.75},{"t":301.2,"r":0.54,"n":0.5},{"t":301.2,"r":0.65,"n":0.95},{"t":291.5,"r":0.53,"n":0.08},{"t":291.5,"r":0.59,"n":0.3},{"t":291.5,"r":0.65,"n":0.6},{"t":282.7,"r":0.52,"n":0.07},{"t":271.4,"r":0.66,"n":0.1},{"t":261.4,"r":0.59,"n":0.15},{"t":261.4,"r":0.66,"n":0.5},{"t":257.2,"r":0.61,"n":0.08},{"t":245.2,"r":0.49,"n":0.15},{"t":245.2,"r":0.54,"n":0.45},{"t":245.2,"r":0.61,"n":0.7},{"t":232.2,"r":0.68,"n":0.12},{"t":228.7,"r":0.56,"n":0.1},{"t":228.7,"r":0.61,"n":0.35},{"t":228.7,"r":0.66,"n":0.7},{"t":207.6,"r":0.53,"n":0.12},{"t":200.5,"r":0.66,"n":0.1},{"t":174.3,"r":0.66,"n":0.15},{"t":164.3,"r":0.47,"n":0.08},{"t":164.3,"r":0.58,"n":0.3},{"t":164.3,"r":0.67,"n":0.7},{"t":162,"r":0.58,"n":0.2},{"t":149.4,"r":0.56,"n":0.1},{"t":139,"r":0.67,"n":0.3},{"t":108.9,"r":0.68,"n":0.2},{"t":107.3,"r":0.38,"n":0.15},{"t":107.3,"r":0.5,"n":0.4},{"t":107.3,"r":0.6,"n":0.7},{"t":107.3,"r":0.68,"n":0.95},{"t":78.2,"r":0.62,"n":0.2},{"t":55.2,"r":0.39,"n":0.1},{"t":55.2,"r":0.52,"n":0.2},{"t":55.2,"r":0.57,"n":0.4},{"t":55.2,"r":0.61,"n":0.7},{"t":53.6,"r":0.62,"n":0.2},{"t":39.3,"r":0.5,"n":0.1},{"t":39.3,"r":0.54,"n":0.3},{"t":39.3,"r":0.59,"n":0.6},{"t":39.3,"r":0.63,"n":0.85},{"t":14,"r":0.57,"n":0.1},{"t":8.2,"r":0.64,"n":0.12},{"t":8.2,"r":0.68,"n":0.3},{"t":4.4,"r":0.64,"n":0.15}],
"E1":[{"t":0,"e":500,"r":0,"n":0},{"t":311.5,"e":313.5,"r":0.4,"n":0.15},{"t":311.5,"e":313.5,"r":0.43,"n":0.25},{"t":311.5,"e":313.5,"r":0.45,"n":0.55},{"t":311.5,"e":313.5,"r":0.46,"n":0.85},{"t":311.5,"e":313.5,"r":0.49,"n":1},{"t":305.3,"e":308.2,"r":0.38,"n":0.12},{"t":305.3,"e":308.2,"r":0.4,"n":0.2},{"t":305.3,"e":308.2,"r":0.42,"n":0.3},{"t":305.3,"e":308.2,"r":0.45,"n":0.5},{"t":305.3,"e":308.2,"r":0.47,"n":0.7},{"t":305.3,"e":308.2,"r":0.49,"n":0.85},{"t":305.3,"e":308.2,"r":0.57,"n":1},{"t":303.7,"e":304.8,"r":0.4,"n":0.2},{"t":303.7,"e":304.8,"r":0.45,"n":0.55},{"t":303.7,"e":304.8,"r":0.47,"n":0.75},{"t":303.7,"e":304.8,"r":0.52,"n":0.9},{"t":293,"e":294.8,"r":0.6,"n":0.2},{"t":293,"e":294.8,"r":0.64,"n":0.5},{"t":293,"e":294.8,"r":0.68,"n":0.65},{"t":183,"e":184.1,"r":0.62,"n":1},{"t":150.2,"e":151.2,"r":0.52,"n":0.95}],
"E2":[{"t":496,"r":0.54,"n":0.1},{"t":496,"r":0.64,"n":0.3},{"t":489.6,"r":0.61,"n":0.12},{"t":489.6,"r":0.68,"n":0.35},{"t":475.3,"r":0.41,"n":0.12},{"t":475.3,"r":0.48,"n":0.35},{"t":475.3,"r":0.54,"n":0.7},{"t":475.3,"r":0.63,"n":0.9},{"t":472.7,"r":0.63,"n":0.3},{"t":468.2,"r":0.46,"n":0.1},{"t":468.2,"r":0.6,"n":0.35},{"t":468.2,"r":0.66,"n":0.5},{"t":457.2,"r":0.6,"n":0.15},{"t":457.2,"r":0.66,"n":0.3},{"t":447.8,"r":0.41,"n":0.1},{"t":447.8,"r":0.45,"n":0.35},{"t":447.8,"r":0.49,"n":0.6},{"t":447.8,"r":0.68,"n":0.9},{"t":437.1,"r":0.44,"n":0.15},{"t":437.1,"r":0.46,"n":0.55},{"t":437.1,"r":0.68,"n":0.75},{"t":415.8,"r":0.42,"n":0.15},{"t":415.8,"r":0.46,"n":0.75},{"t":415.8,"r":0.63,"n":1},{"t":396.4,"r":0.55,"n":0.1},{"t":396.4,"r":0.61,"n":0.5},{"t":392.5,"r":0.43,"n":0.08},{"t":392.5,"r":0.61,"n":0.4},{"t":388.9,"r":0.42,"n":0.1},{"t":388.9,"r":0.65,"n":0.35},{"t":375.6,"r":0.56,"n":0.12},{"t":371.4,"r":0.48,"n":0.08},{"t":371.4,"r":0.6,"n":0.3},{"t":371.4,"r":0.66,"n":0.6},{"t":363.7,"r":0.63,"n":0.12},{"t":355.9,"r":0.41,"n":0.08},{"t":355.9,"r":0.45,"n":0.3},{"t":355.9,"r":0.48,"n":0.4},{"t":355.9,"r":0.57,"n":0.7},{"t":353,"r":0.63,"n":0.15},{"t":340.3,"r":0.43,"n":0.1},{"t":340.3,"r":0.47,"n":0.2},{"t":340.3,"r":0.62,"n":0.35},{"t":339.6,"r":0.53,"n":0.12},{"t":339.6,"r":0.66,"n":0.45},{"t":332.7,"r":0.56,"n":0.12},{"t":329.9,"r":0.56,"n":0.12},{"t":329.9,"r":0.62,"n":0.3},{"t":326.4,"r":0.62,"n":0.1},{"t":326.4,"r":0.64,"n":0.3},{"t":324,"r":0.61,"n":0.15},{"t":321.7,"r":0.41,"n":0.1},{"t":321.7,"r":0.54,"n":0.3},{"t":321.7,"r":0.56,"n":0.45},{"t":321.7,"r":0.66,"n":0.65},{"t":320.6,"r":0.69,"n":0.2},{"t":318.9,"r":0.47,"n":0.1},{"t":318.9,"r":0.51,"n":0.2},{"t":318.9,"r":0.56,"n":0.35},{"t":318.9,"r":0.64,"n":0.7},{"t":317.2,"r":0.57,"n":0.15},{"t":317.2,"r":0.63,"n":0.3},{"t":302.8,"r":0.41,"n":0.2},{"t":302.8,"r":0.56,"n":0.6},{"t":301.8,"r":0.37,"n":0.12},{"t":301.8,"r":0.41,"n":0.35},{"t":301.8,"r":0.44,"n":0.6},{"t":301.8,"r":0.46,"n":0.95},{"t":297.2,"r":0.43,"n":0.1},{"t":297.2,"r":0.51,"n":0.3},{"t":297.2,"r":0.6,"n":0.5},{"t":296.4,"r":0.57,"n":0.15},{"t":296.4,"r":0.66,"n":0.4},{"t":292.6,"r":0.41,"n":0.1},{"t":292.6,"r":0.49,"n":0.3},{"t":292.6,"r":0.52,"n":0.5},{"t":291.4,"r":0.63,"n":0.55},{"t":290.6,"r":0.59,"n":0.2},{"t":290.6,"r":0.63,"n":0.6},{"t":288.5,"r":0.63,"n":0.12},{"t":253.8,"r":0.67,"n":0.08},{"t":247.7,"r":0.61,"n":0.15},{"t":238.7,"r":0.58,"n":0.08},{"t":236.3,"r":0.66,"n":0.08},{"t":234.4,"r":0.64,"n":0.2},{"t":234.4,"r":0.65,"n":0.4},{"t":234.4,"r":0.68,"n":0.55},{"t":231,"r":0.6,"n":0.1},{"t":231,"r":0.64,"n":0.2},{"t":227,"r":0.6,"n":0.12},{"t":218.6,"r":0.62,"n":0.3},{"t":217,"r":0.4,"n":0.2},{"t":217,"r":0.55,"n":0.45},{"t":215.1,"r":0.61,"n":0.35},{"t":206.7,"r":0.43,"n":0.12},{"t":206.7,"r":0.68,"n":0.4},{"t":200.8,"r":0.64,"n":0.1},{"t":197,"r":0.5,"n":0.1},{"t":197,"r":0.54,"n":0.25},{"t":197,"r":0.61,"n":0.6},{"t":183.4,"r":0.41,"n":0.08},{"t":183.4,"r":0.44,"n":0.25},{"t":183.4,"r":0.48,"n":0.5},{"t":183.4,"r":0.58,"n":0.8},{"t":171,"r":0.66,"n":0.06},{"t":150.7,"r":0.37,"n":0.1},{"t":150.7,"r":0.4,"n":0.2},{"t":150.7,"r":0.43,"n":0.4},{"t":150.7,"r":0.47,"n":0.6},{"t":150.7,"r":0.5,"n":0.95},{"t":119.9,"r":0.51,"n":0.1},{"t":119.9,"r":0.6,"n":0.45},{"t":116,"r":0.64,"n":0.1},{"t":113.1,"r":0.62,"n":0.15},{"t":97.3,"r":0.5,"n":0.12},{"t":91.8,"r":0.46,"n":0.1},{"t":91.8,"r":0.58,"n":0.35},{"t":91.8,"r":0.62,"n":0.7},{"t":76,"r":0.65,"n":0.15},{"t":74.3,"r":0.4,"n":0.12},{"t":74.3,"r":0.42,"n":0.35},{"t":74.3,"r":0.45,"n":0.95},{"t":51.6,"r":0.64,"n":0.1},{"t":29.3,"r":0.57,"n":0.06},{"t":23.1,"r":0.48,"n":0.08},{"t":23.1,"r":0.61,"n":0.4},{"t":18,"r":0.63,"n":0.2},{"t":18,"r":0.68,"n":0.3},{"t":14.1,"r":0.57,"n":0.06}]},
"vconcat":[{"bounds":"flush","spacing":74.5,"hconcat":[
{"width":637,"height":1271,"layer":[{"data":{"name":"A1"},"mark":{"type":"rect"},"encoding":{"x":{"field":"r","type":"quantitative","scale":{"domain":[0,0.704],"nice":false,"zero":false},"axis":{"orient":"bottom","values":[0,0.2,0.4,0.6],"format":"~g","tickSize":24,"title":null}},"x2":{"datum":0.704},"y":{"field":"t","type":"quantitative","scale":{"domain":[0,500],"nice":false},"axis":{"orient":"left","values":[0,100,200,300,400,500],"tickSize":24,"title":"t / ns","titlePadding":22}},"y2":{"field":"e"},"color":{"field":"n","type":"quantitative","scale":{"scheme":"viridis","domain":[0,1],"clamp":true},"legend":null}}},{"data":{"name":"A2"},"mark":{"type":"rule","strokeWidth":1.3},"encoding":{"x":{"field":"r","type":"quantitative","axis":null},"x2":{"datum":0.704},"y":{"field":"t","type":"quantitative","axis":null},"color":{"field":"n","type":"quantitative","legend":null}}},{"data":{"name":"ft"},"mark":{"type":"rect","filled":false,"stroke":"black","strokeWidth":3},"encoding":{"x":{"field":"r","type":"quantitative","axis":{"orient":"bottom","values":[0,0.05,0.1,0.15,0.2,0.25,0.3,0.35,0.4,0.45,0.5,0.55,0.6,0.65,0.7],"tickSize":12,"labels":false,"title":null}},"x2":{"field":"u"},"y":{"field":"t","type":"quantitative","axis":{"orient":"left","values":[0,20,40,60,80,100,120,140,160,180,200,220,240,260,280,300,320,340,360,380,400,420,440,460,480,500],"tickSize":12,"labels":false,"title":null}},"y2":{"field":"e"}}},{"data":{"values":[{"r":0,"t":500,"s":"A."}]},"mark":{"type":"text","align":"left","baseline":"alphabetic","dy":-28,"fontSize":58,"fontWeight":"bold","font":"Liberation Sans"},"encoding":{"x":{"field":"r","type":"quantitative","axis":null},"y":{"field":"t","type":"quantitative","axis":null},"text":{"field":"s"}}},{"data":{"values":[{"r":0.0895,"t":500,"s":"wild-type"}]},"mark":{"type":"text","align":"left","baseline":"alphabetic","dy":-28,"fontSize":58,"font":"Liberation Sans"},"encoding":{"x":{"field":"r","type":"quantitative","axis":null},"y":{"field":"t","type":"quantitative","axis":null},"text":{"field":"s"}}}],"resolve":{"axis":{"x":"independent","y":"independent"}}},
{"width":637,"height":1271,"layer":[{"data":{"name":"B1"},"mark":{"type":"rect"},"encoding":{"x":{"field":"r","type":"quantitative","scale":{"domain":[0,0.704],"nice":false,"zero":false},"axis":{"orient":"bottom","values":[0,0.2,0.4,0.6],"format":"~g","tickSize":24,"title":null}},"x2":{"datum":0.704},"y":{"field":"t","type":"quantitative","scale":{"domain":[0,500],"nice":false},"axis":{"orient":"left","values":[0,100,200,300,400,500],"tickSize":24,"labels":false,"title":null}},"y2":{"field":"e"},"color":{"field":"n","type":"quantitative","scale":{"scheme":"viridis","domain":[0,1],"clamp":true},"legend":null}}},{"data":{"name":"B2"},"mark":{"type":"rule","strokeWidth":1.3},"encoding":{"x":{"field":"r","type":"quantitative","axis":null},"x2":{"datum":0.704},"y":{"field":"t","type":"quantitative","axis":null},"color":{"field":"n","type":"quantitative","legend":null}}},{"data":{"name":"ft"},"mark":{"type":"rect","filled":false,"stroke":"black","strokeWidth":3},"encoding":{"x":{"field":"r","type":"quantitative","axis":{"orient":"bottom","values":[0,0.05,0.1,0.15,0.2,0.25,0.3,0.35,0.4,0.45,0.5,0.55,0.6,0.65,0.7],"tickSize":12,"labels":false,"title":null}},"x2":{"field":"u"},"y":{"field":"t","type":"quantitative","axis":{"orient":"left","values":[0,20,40,60,80,100,120,140,160,180,200,220,240,260,280,300,320,340,360,380,400,420,440,460,480,500],"tickSize":12,"labels":false,"title":null}},"y2":{"field":"e"}}},{"data":{"values":[{"r":0,"t":500,"s":"B."}]},"mark":{"type":"text","align":"left","baseline":"alphabetic","dy":-28,"fontSize":58,"fontWeight":"bold","font":"Liberation Sans"},"encoding":{"x":{"field":"r","type":"quantitative","axis":null},"y":{"field":"t","type":"quantitative","axis":null},"text":{"field":"s"}}},{"data":{"values":[{"r":0.0895,"t":500,"s":"S14G"}]},"mark":{"type":"text","align":"left","baseline":"alphabetic","dy":-28,"fontSize":58,"font":"Liberation Sans"},"encoding":{"x":{"field":"r","type":"quantitative","axis":null},"y":{"field":"t","type":"quantitative","axis":null},"text":{"field":"s"}}}],"resolve":{"axis":{"x":"independent","y":"independent"}}},
{"width":637,"height":1271,"layer":[{"data":{"name":"C1"},"mark":{"type":"rect"},"encoding":{"x":{"field":"r","type":"quantitative","scale":{"domain":[0,0.704],"nice":false,"zero":false},"axis":{"orient":"bottom","values":[0,0.25,0.5],"format":".2~f","tickSize":24,"title":"r / nm","titlePadding":17}},"x2":{"datum":0.704},"y":{"field":"t","type":"quantitative","scale":{"domain":[0,500],"nice":false},"axis":{"orient":"left","values":[0,100,200,300,400,500],"tickSize":24,"labels":false,"title":null}},"y2":{"field":"e"},"color":{"field":"n","type":"quantitative","scale":{"scheme":"viridis","domain":[0,1],"clamp":true},"legend":null}}},{"data":{"name":"C2"},"mark":{"type":"rule","strokeWidth":1.3},"encoding":{"x":{"field":"r","type":"quantitative","axis":null},"x2":{"datum":0.704},"y":{"field":"t","type":"quantitative","axis":null},"color":{"field":"n","type":"quantitative","legend":null}}},{"data":{"name":"ft"},"mark":{"type":"rect","filled":false,"stroke":"black","strokeWidth":3},"encoding":{"x":{"field":"r","type":"quantitative","axis":{"orient":"bottom","values":[0,0.05,0.1,0.15,0.2,0.25,0.3,0.35,0.4,0.45,0.5,0.55,0.6,0.65,0.7],"tickSize":12,"labels":false,"title":null}},"x2":{"field":"u"},"y":{"field":"t","type":"quantitative","axis":{"orient":"left","values":[0,20,40,60,80,100,120,140,160,180,200,220,240,260,280,300,320,340,360,380,400,420,440,460,480,500],"tickSize":12,"labels":false,"title":null}},"y2":{"field":"e"}}},{"data":{"values":[{"r":0,"t":500,"s":"C."}]},"mark":{"type":"text","align":"left","baseline":"alphabetic","dy":-28,"fontSize":58,"fontWeight":"bold","font":"Liberation Sans"},"encoding":{"x":{"field":"r","type":"quantitative","axis":null},"y":{"field":"t","type":"quantitative","axis":null},"text":{"field":"s"}}},{"data":{"values":[{"r":0.0895,"t":500,"s":"D-S14"}]},"mark":{"type":"text","align":"left","baseline":"alphabetic","dy":-28,"fontSize":58,"font":"Liberation Sans"},"encoding":{"x":{"field":"r","type":"quantitative","axis":null},"y":{"field":"t","type":"quantitative","axis":null},"text":{"field":"s"}}}],"resolve":{"axis":{"x":"independent","y":"independent"}}},
{"width":637,"height":1271,"layer":[{"data":{"name":"D1"},"mark":{"type":"rect"},"encoding":{"x":{"field":"r","type":"quantitative","scale":{"domain":[0,0.704],"nice":false,"zero":false},"axis":{"orient":"bottom","values":[0,0.2,0.4,0.6],"format":"~g","tickSize":24,"title":null}},"x2":{"datum":0.704},"y":{"field":"t","type":"quantitative","scale":{"domain":[0,500],"nice":false},"axis":{"orient":"left","values":[0,100,200,300,400,500],"tickSize":24,"labels":false,"title":null}},"y2":{"field":"e"},"color":{"field":"n","type":"quantitative","scale":{"scheme":"viridis","domain":[0,1],"clamp":true},"legend":null}}},{"data":{"name":"D2"},"mark":{"type":"rule","strokeWidth":1.3},"encoding":{"x":{"field":"r","type":"quantitative","axis":null},"x2":{"datum":0.704},"y":{"field":"t","type":"quantitative","axis":null},"color":{"field":"n","type":"quantitative","legend":null}}},{"data":{"name":"ft"},"mark":{"type":"rect","filled":false,"stroke":"black","strokeWidth":3},"encoding":{"x":{"field":"r","type":"quantitative","axis":{"orient":"bottom","values":[0,0.05,0.1,0.15,0.2,0.25,0.3,0.35,0.4,0.45,0.5,0.55,0.6,0.65,0.7],"tickSize":12,"labels":false,"title":null}},"x2":{"field":"u"},"y":{"field":"t","type":"quantitative","axis":{"orient":"left","values":[0,20,40,60,80,100,120,140,160,180,200,220,240,260,280,300,320,340,360,380,400,420,440,460,480,500],"tickSize":12,"labels":false,"title":null}},"y2":{"field":"e"}}},{"data":{"values":[{"r":0,"t":500,"s":"D."}]},"mark":{"type":"text","align":"left","baseline":"alphabetic","dy":-28,"fontSize":58,"fontWeight":"bold","font":"Liberation Sans"},"encoding":{"x":{"field":"r","type":"quantitative","axis":null},"y":{"field":"t","type":"quantitative","axis":null},"text":{"field":"s"}}},{"data":{"values":[{"r":0.0895,"t":500,"s":"D-S7,14"}]},"mark":{"type":"text","align":"left","baseline":"alphabetic","dy":-28,"fontSize":58,"font":"Liberation Sans"},"encoding":{"x":{"field":"r","type":"quantitative","axis":null},"y":{"field":"t","type":"quantitative","axis":null},"text":{"field":"s"}}}],"resolve":{"axis":{"x":"independent","y":"independent"}}},
{"width":637,"height":1271,"layer":[{"data":{"name":"E1"},"mark":{"type":"rect"},"encoding":{"x":{"field":"r","type":"quantitative","scale":{"domain":[0,0.704],"nice":false,"zero":false},"axis":{"orient":"bottom","values":[0,0.2,0.4,0.6],"format":"~g","tickSize":24,"title":null}},"x2":{"datum":0.704},"y":{"field":"t","type":"quantitative","scale":{"domain":[0,500],"nice":false},"axis":{"orient":"left","values":[0,100,200,300,400,500],"tickSize":24,"labels":false,"title":null}},"y2":{"field":"e"},"color":{"field":"n","type":"quantitative","scale":{"scheme":"viridis","domain":[0,1],"clamp":true},"legend":null}}},{"data":{"name":"E2"},"mark":{"type":"rule","strokeWidth":1.3},"encoding":{"x":{"field":"r","type":"quantitative","axis":null},"x2":{"datum":0.704},"y":{"field":"t","type":"quantitative","axis":null},"color":{"field":"n","type":"quantitative","legend":null}}},{"data":{"name":"ft"},"mark":{"type":"rect","filled":false,"stroke":"black","strokeWidth":3},"encoding":{"x":{"field":"r","type":"quantitative","axis":{"orient":"bottom","values":[0,0.05,0.1,0.15,0.2,0.25,0.3,0.35,0.4,0.45,0.5,0.55,0.6,0.65,0.7],"tickSize":12,"labels":false,"title":null}},"x2":{"field":"u"},"y":{"field":"t","type":"quantitative","axis":{"orient":"left","values":[0,20,40,60,80,100,120,140,160,180,200,220,240,260,280,300,320,340,360,380,400,420,440,460,480,500],"tickSize":12,"labels":false,"title":null}},"y2":{"field":"e"}}},{"data":{"values":[{"r":0,"t":500,"s":"E."}]},"mark":{"type":"text","align":"left","baseline":"alphabetic","dy":-28,"fontSize":58,"fontWeight":"bold","font":"Liberation Sans"},"encoding":{"x":{"field":"r","type":"quantitative","axis":null},"y":{"field":"t","type":"quantitative","axis":null},"text":{"field":"s"}}},{"data":{"values":[{"r":0.0895,"t":500,"s":"D-S7"}]},"mark":{"type":"text","align":"left","baseline":"alphabetic","dy":-28,"fontSize":58,"font":"Liberation Sans"},"encoding":{"x":{"field":"r","type":"quantitative","axis":null},"y":{"field":"t","type":"quantitative","axis":null},"text":{"field":"s"}}}],"resolve":{"axis":{"x":"independent","y":"independent"}}}
]},
{"width":3483,"height":86,"layer":[{"data":{"values":[{"a":0},{"a":0.01},{"a":0.02},{"a":0.03},{"a":0.04},{"a":0.05},{"a":0.06},{"a":0.07},{"a":0.08},{"a":0.09},{"a":0.1},{"a":0.11},{"a":0.12},{"a":0.13},{"a":0.14},{"a":0.15},{"a":0.16},{"a":0.17},{"a":0.18},{"a":0.19},{"a":0.2},{"a":0.21},{"a":0.22},{"a":0.23},{"a":0.24},{"a":0.25},{"a":0.26},{"a":0.27},{"a":0.28},{"a":0.29},{"a":0.3},{"a":0.31},{"a":0.32},{"a":0.33},{"a":0.34},{"a":0.35},{"a":0.36},{"a":0.37},{"a":0.38},{"a":0.39},{"a":0.4},{"a":0.41},{"a":0.42},{"a":0.43},{"a":0.44},{"a":0.45},{"a":0.46},{"a":0.47},{"a":0.48},{"a":0.49},{"a":0.5},{"a":0.51},{"a":0.52},{"a":0.53},{"a":0.54},{"a":0.55},{"a":0.56},{"a":0.57},{"a":0.58},{"a":0.59},{"a":0.6},{"a":0.61},{"a":0.62},{"a":0.63},{"a":0.64},{"a":0.65},{"a":0.66},{"a":0.67},{"a":0.68},{"a":0.69},{"a":0.7},{"a":0.71},{"a":0.72},{"a":0.73},{"a":0.74},{"a":0.75},{"a":0.76},{"a":0.77},{"a":0.78},{"a":0.79},{"a":0.8},{"a":0.81},{"a":0.82},{"a":0.83},{"a":0.84},{"a":0.85},{"a":0.86},{"a":0.87},{"a":0.88},{"a":0.89},{"a":0.9},{"a":0.91},{"a":0.92},{"a":0.93},{"a":0.94},{"a":0.95},{"a":0.96},{"a":0.97},{"a":0.98},{"a":0.99}]},"mark":{"type":"rect"},"encoding":{"x":{"field":"a","type":"quantitative","scale":{"domain":[0,1.0208],"nice":false,"zero":false},"axis":{"orient":"bottom","values":[0,0.2,0.4,0.6,0.8,1],"format":"~g","tickSize":24,"title":"n(r, t)","titlePadding":20}},"x2":{"datum":1},"color":{"field":"a","type":"quantitative","scale":{"scheme":"viridis","domain":[0,1]},"legend":null}}},{"data":{"values":[{"x":1,"y":0,"y2":1},{"x":1.0208,"y":0.5,"y2":0.5}]},"mark":{"type":"area","color":"#fde725"},"encoding":{"x":{"field":"x","type":"quantitative"},"y":{"field":"y","type":"quantitative","scale":{"domain":[0,1],"nice":false},"axis":null},"y2":{"field":"y2"}}},{"data":{"values":[{"i":1,"x":1,"y":1},{"i":2,"x":0,"y":1},{"i":3,"x":0,"y":0},{"i":4,"x":1,"y":0},{"i":5,"x":1.0208,"y":0.5},{"i":6,"x":1,"y":1}]},"mark":{"type":"line","color":"black","strokeWidth":3},"encoding":{"x":{"field":"x","type":"quantitative"},"y":{"field":"y","type":"quantitative"},"order":{"field":"i","type":"quantitative"}}}]}]}
